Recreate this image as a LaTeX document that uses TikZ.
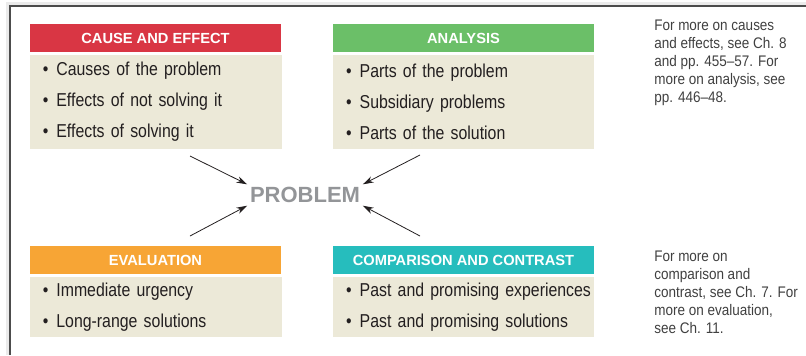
\documentclass[tikz,border=0pt]{standalone}
\usepackage{fontspec}
\setmainfont{Liberation Sans}
\newfontfamily\bodyfont[FakeStretch=0.85]{Liberation Sans}
\newfontfamily\notefont[FakeStretch=0.88]{Liberation Sans}
\usetikzlibrary{arrows.meta,positioning}

\definecolor{causered}{HTML}{D93644}
\definecolor{analysisgreen}{HTML}{6BBF68}
\definecolor{evalorange}{HTML}{F7A535}
\definecolor{compteal}{HTML}{26BDBD}
\definecolor{bodytan}{HTML}{ECE9D8}
\definecolor{inktext}{HTML}{231F20}
\definecolor{probgray}{HTML}{939598}

% one bulleted line, never broken
\newcommand{\bitem}[1]{\mbox{\textbullet\hspace{6pt}#1}}

\begin{document}
\begin{tikzpicture}[x=0.75pt,y=-0.75pt,>={Stealth[length=8pt,width=5pt]},
    header/.style={fill=#1,minimum height=21pt,inner sep=0pt,
      text=white,font=\fontsize{11}{13}\selectfont\bfseries},
    itembox/.style={fill=bodytan,minimum height=#1,align=left,
      inner xsep=10pt,inner ysep=0pt,anchor=north,text=inktext,
      font=\bodyfont\fontsize{14}{23.25}\selectfont},
    leftcol/.style={minimum width=189pt,text width=169pt},
    rightcol/.style={minimum width=196pt,text width=176pt},
    sidenote/.style={anchor=north west,inner sep=0pt,align=left,text=black!75,
      font=\notefont\fontsize{11.5}{13.5}\selectfont}]
  \useasboundingbox (0,0) rectangle (806,355);

  % page edge with its soft shadow
  \draw[line width=3pt,black!8] (7.5,355) -- (7.5,3.5) -- (806,3.5);
  \draw[line width=1.1pt,black!70] (10,355) -- (10,6) -- (806,6);

  % the four headed boxes
  \node[header=causered,minimum width=188pt] (cause) at (155.5,38) {CAUSE AND EFFECT};
  \node[itembox=70pt,leftcol,below=2pt of cause] (causebody) {%
    \bitem{Causes of the problem}\\
    \bitem{Effects of not solving it}\\
    \bitem{Effects of solving it}};

  \node[header=analysisgreen,minimum width=195.5pt] (analysis) at (463.5,38) {ANALYSIS};
  \node[itembox=70pt,rightcol,below=2pt of analysis] (analysisbody) {%
    \bitem{Parts of the problem}\\
    \bitem{Subsidiary problems}\\
    \bitem{Parts of the solution}};

  \node[header=evalorange,minimum width=188pt] (evaluation) at (155.5,260) {EVALUATION};
  \node[itembox=45pt,leftcol,below=2pt of evaluation] (evaluationbody) {%
    \bitem{Immediate urgency}\\
    \bitem{Long-range solutions}};

  \node[header=compteal,minimum width=195.5pt] (comparison) at (463.5,260) {COMPARISON AND CONTRAST};
  \node[itembox=45pt,rightcol,below=2pt of comparison] (comparisonbody) {%
    \bitem{Past and promising experiences}\\
    \bitem{Past and promising solutions}};

  % centre word and the arrows into it
  \node[text=probgray,font=\fontsize{16.5}{18}\selectfont\bfseries,inner sep=2pt] (problem) at (305,195) {PROBLEM};

  \coordinate (fromcause) at (190,156);
  \coordinate (fromanalysis) at (420,155);
  \coordinate (fromevaluation) at (190,236);
  \coordinate (fromcomparison) at (420,236);
  \draw[->,line width=0.6pt,inktext] (fromcause) -- (problem.north west);
  \draw[->,line width=0.6pt,inktext] (fromanalysis) -- (problem.north east);
  \draw[->,line width=0.6pt,inktext] (fromevaluation) -- (problem.south west);
  \draw[->,line width=0.6pt,inktext] (fromcomparison) -- (problem.south east);

  % cross references in the margin
  \node[sidenote] (causenote) at (654,20) {For more on causes\\ and effects, see Ch. 8\\ and pp. 455–57. For\\ more on analysis, see\\ pp. 446–48.};
  \node[sidenote] (comparisonnote) at (654,251) {For more on\\ comparison and\\ contrast, see Ch. 7. For\\ more on evaluation,\\ see Ch. 11.};
\end{tikzpicture}
\end{document}
